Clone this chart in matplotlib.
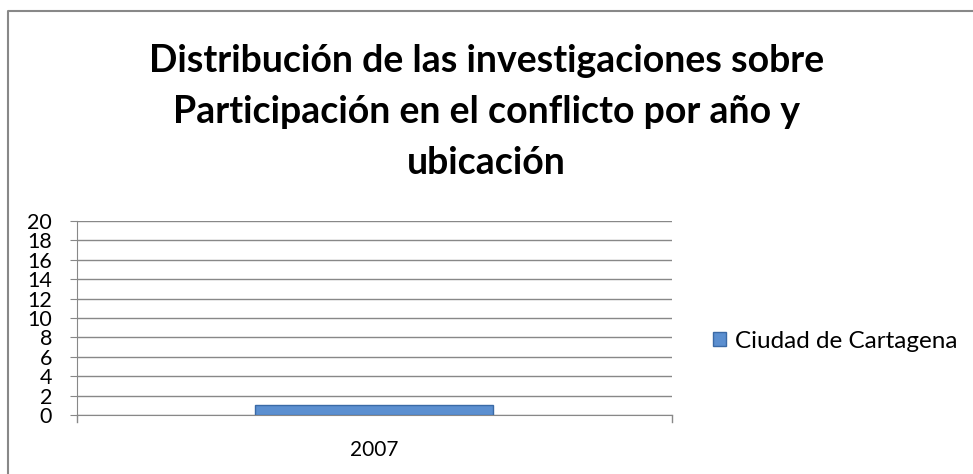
import numpy as np
import matplotlib
matplotlib.use("Agg")
from matplotlib import pyplot as plt
from matplotlib.lines import Line2D

# data
years = ["2007"]
ciudad_cartagena = [1]
series_name = "Ciudad de Cartagena"
yticks = np.arange(0, 21, 2)

title = "Distribución de las investigaciones sobre\nParticipación en el conflicto por año y\nubicación"

plt.rcParams["font.family"] = ["Lato", "DejaVu Sans"]

W, H = 973, 474
fig = plt.figure(figsize=(W/100, H/100), dpi=100)
ax = fig.add_axes([77/W, 1 - 415/H, (672 - 77)/W, (415 - 221)/H])

x = np.arange(len(years))
bars = ax.bar(x, ciudad_cartagena, width=0.4, color="#5b8fd0", edgecolor="#3a6aa6",
              linewidth=1.0, label=series_name, zorder=3)

ax.set_xlim(-0.5, 0.5)
ax.set_ylim(0, 20)
ax.set_yticks(yticks)
ax.set_yticklabels([str(v) for v in yticks])
ax.set_xticks(x)
ax.set_xticklabels(years)
ax.tick_params(axis="y", length=5, color="#888888", pad=13, labelsize=15.5)
ax.tick_params(axis="x", length=0, pad=18, labelsize=15)
ax.grid(axis="y", color="#888888", linewidth=1.0, zorder=0)
ax.set_axisbelow(True)
for side in ["top", "right"]:
    ax.spines[side].set_visible(False)
ax.spines["left"].set_color("#888888")
ax.spines["bottom"].set_color("#888888")
# small ticks at the ends of the category axis
ax.plot([0.5, 0.5], [0, -0.7], color="#888888", lw=1, clip_on=False)
ax.plot([-0.5, -0.5], [0, -0.7], color="#888888", lw=1, clip_on=False)

fig.text(0.5, 1 - 112/H, title, ha="center", va="center", fontsize=27,
         fontweight="bold", linespacing=1.6)

leg = fig.legend(handles=[bars], labels=[series_name], loc="center left",
                 bbox_to_anchor=(713/W, 1 - 341/H), frameon=False, fontsize=17.5,
                 handlelength=0.55, handleheight=0.55, handletextpad=0.35,
                 borderpad=0, borderaxespad=0)

# chart frame (only left and top edges are visible in the crop)
fig.add_artist(Line2D([8/W, 8/W, 1], [0, 1 - 11/H, 1 - 11/H], color="#888888",
                      linewidth=1.5, transform=fig.transFigure))

fig.savefig("out.png", dpi=100)
